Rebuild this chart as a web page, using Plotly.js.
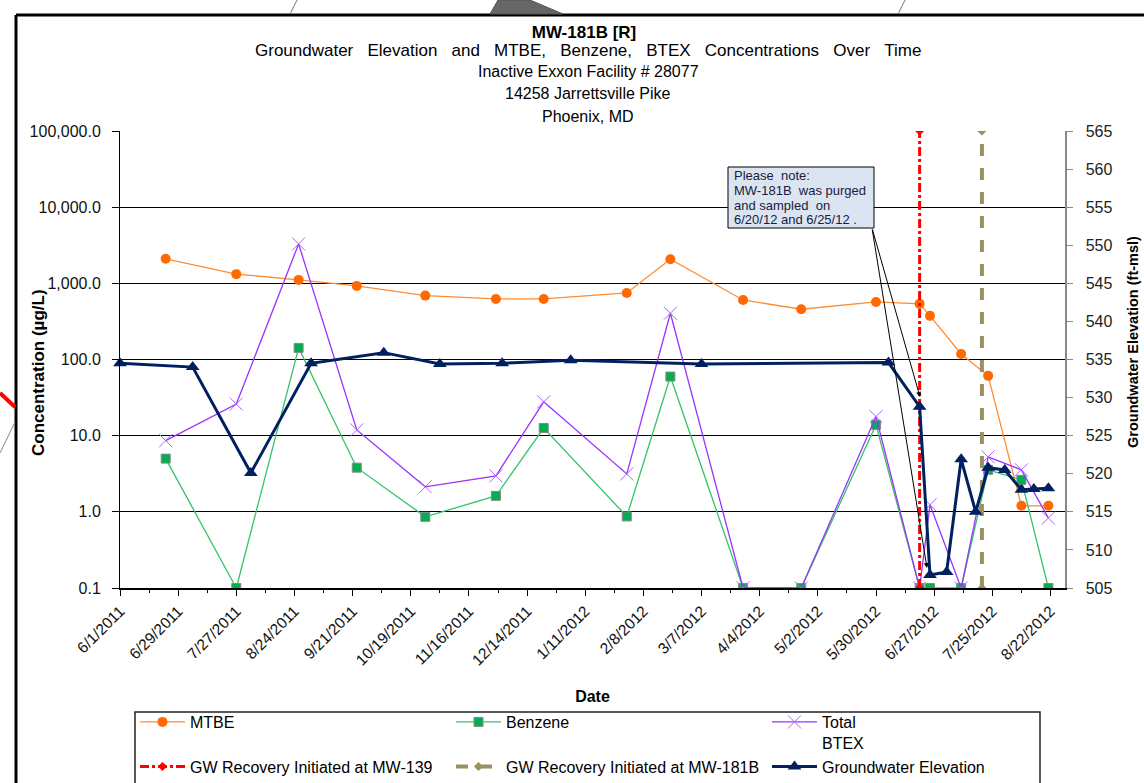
<!DOCTYPE html>
<html><head><meta charset="utf-8">
<script src="https://cdn.plot.ly/plotly-3.0.1.min.js"></script>
<style>html,body{margin:0;padding:0;background:#fff}#chart{width:1144px;height:783px}</style>
</head><body><div id="chart"></div>
<script>
// ---- data ----
const sampleDates = ['2011-06-23','2011-07-27','2011-08-26','2011-09-23','2011-10-26','2011-11-29','2011-12-22',
  '2012-01-31','2012-02-21','2012-03-27','2012-04-24','2012-05-30','2012-06-20','2012-06-25','2012-07-10',
  '2012-07-23','2012-08-08','2012-08-21'];
const mtbe    = [2100, 1320, 1110, 925, 690, 624, 624, 748, 2070, 605, 457, 570, 537, 374, 118, 61, 1.2, 1.2];
const benzene = [5.0, 0.1, 142, 3.8, 0.86, 1.62, 12.6, 0.87, 59.7, 0.1, 0.1, 13.9, 0.1, 0.1, 0.1, 3.56, 2.63, 0.1];
const btex    = [8.6, 26, 3290, 11.9, 2.13, 2.97, 27.8, 3.15, 405, 0.1, 0.1, 17.8, 0.1, 1.24, 0.1, 5.27, 3.56, 0.83];

const gwDates = ['2011-06-01','2011-07-06','2011-08-03','2011-09-01','2011-10-06','2011-11-02','2011-12-02',
  '2012-01-04','2012-03-07','2012-06-05','2012-06-20','2012-06-25','2012-07-03','2012-07-10','2012-07-17',
  '2012-07-23','2012-07-31','2012-08-08','2012-08-14','2012-08-21'];
const gwElevation = [534.5, 534.0, 520.1, 534.5, 535.9, 534.4, 534.5, 534.9, 534.4, 534.6, 528.8, 506.7,
  507.1, 521.9, 515.0, 520.8, 520.5, 517.9, 518.0, 518.1];

const recoveryMW139 = ['2012-06-20','2012-06-20'];
const recoveryMW181B = ['2012-07-20','2012-07-20'];
const recoverySpan = [0.1, 100000];

const concTickVals = [0.1, 1, 10, 100, 1000, 10000, 100000];
const concTickText = ['0.1','1.0','10.0','100.0','1,000.0','10,000.0','100,000.0'];

const S = '\u00a0';
const titleLines = [
  ['Groundwater', 'Elevation', 'and', 'MTBE,', 'Benzene,', 'BTEX', 'Concentrations', 'Over', 'Time'].join(S + S + S),
  'Inactive Exxon Facility # 28077', '14258 Jarrettsville Pike', 'Phoenix, MD'];
const noteLines = ['Please' + S + S + 'note:', 'MW-181B' + S + S + 'was purged', 'and sampled' + S + S + 'on', '6/20/12 and 6/25/12 .'];

// ---- layout helpers (pixel -> paper) ----
const L = 120, R = 1065, T = 131, B = 588;
const px = x => (x - L) / (R - L);
const py = y => (B - y) / (B - T);
const FONT = 'Liberation Sans, Arial, sans-serif';

const traces = [
  {x: sampleDates, y: mtbe, name: 'MTBE', type: 'scatter', mode: 'lines+markers',
   line: {color: '#ff8c33', width: 1.3}, marker: {color: '#ff6a00', size: 10, symbol: 'circle'}},
  {x: sampleDates, y: benzene, name: 'Benzene', type: 'scatter', mode: 'lines+markers',
   line: {color: '#33c466', width: 1.3}, marker: {color: '#00b050', size: 9, symbol: 'square', line: {color: '#888', width: 1}}},
  {x: sampleDates, y: btex, name: 'Total<br>BTEX', type: 'scatter', mode: 'lines+markers',
   line: {color: '#9933ff', width: 1.3}, marker: {color: '#b060ff', size: 13, symbol: 'x-thin-open', line: {color: '#b060ff', width: 1}}},
  {x: recoveryMW139, y: recoverySpan, name: 'GW Recovery Initiated at MW-139', type: 'scatter', mode: 'lines+markers',
   line: {color: '#ff0000', width: 3, dash: 'dashdot'}, marker: {color: '#ff0000', size: 7, symbol: 'diamond'}},
  {x: recoveryMW181B, y: recoverySpan, name: 'GW Recovery Initiated at MW-181B', type: 'scatter', mode: 'lines+markers',
   line: {color: '#9a9060', width: 4, dash: 'dash'}, marker: {color: '#9a9060', size: 7, symbol: 'diamond'}},
  {x: gwDates, y: gwElevation, name: 'Groundwater Elevation', type: 'scatter', mode: 'lines+markers', yaxis: 'y2',
   line: {color: '#002060', width: 3}, marker: {color: '#002060', size: 12, symbol: 'triangle-up'}, cliponaxis: false}
];

const annotations = titleLines.map((t, i) => ({
  text: t, xref: 'paper', yref: 'paper', x: px(588), y: py(50 + 22 * i), xanchor: 'center', yanchor: 'middle',
  showarrow: false, font: {family: FONT, size: i === 0 ? 17 : 16, color: '#000'}
}));
// axis titles for the two value axes, placed as in the reference
annotations.push({text: '<b>Concentration (µg/L)</b>', xref: 'paper', yref: 'paper', x: px(38), y: py(373),
  textangle: -90, xanchor: 'center', yanchor: 'middle', showarrow: false, font: {family: FONT, size: 17, color: '#000'}});
annotations.push({text: '<b>Groundwater Elevation (ft-msl)</b>', xref: 'paper', yref: 'paper', x: px(1133), y: py(342),
  textangle: -90, xanchor: 'center', yanchor: 'middle', showarrow: false, font: {family: FONT, size: 14.5, color: '#000'}});
// note box text
noteLines.forEach((t, i) => annotations.push({
  text: t, xref: 'paper', yref: 'paper', x: px(732), y: py(175 + 15 * i), xanchor: 'left', yanchor: 'middle',
  align: 'left', showarrow: false, font: {family: FONT, size: 13, color: '#1a1a40'}
}));
annotations.push({text: '', xref: 'paper', yref: 'paper', x: px(920), y: py(397), ax: 872 - 920, ay: 228 - 397,
  showarrow: true, arrowhead: 2, arrowsize: 1, arrowwidth: 1, arrowcolor: '#000'});
annotations.push({text: '', xref: 'paper', yref: 'paper', x: px(927), y: py(568), ax: 872 - 927, ay: 228 - 568,
  showarrow: true, arrowhead: 2, arrowsize: 1, arrowwidth: 1, arrowcolor: '#000'});

const shapes = [
  // note box
  {type: 'rect', xref: 'paper', yref: 'paper', x0: px(728), x1: px(874), y0: py(167), y1: py(228), layer: 'above',
   fillcolor: '#dbe5f1', line: {color: '#000', width: 1}},
  // legend frame
  {type: 'rect', xref: 'paper', yref: 'paper', x0: px(135), x1: px(1040), y0: py(712), y1: py(800),
   fillcolor: 'rgba(0,0,0,0)', line: {color: '#222', width: 1.5}},
  // slide decorations around the chart
  {type: 'line', xref: 'paper', yref: 'paper', x0: px(16), x1: px(1150), y0: py(15), y1: py(15), line: {color: '#000', width: 3}},
  {type: 'line', xref: 'paper', yref: 'paper', x0: px(16), x1: px(16), y0: py(15), y1: py(790), line: {color: '#000', width: 3}},
  {type: 'path', xref: 'paper', yref: 'paper',
   path: `M ${px(498)},${py(0)} L ${px(530)},${py(0)} L ${px(563)},${py(14)} L ${px(490)},${py(14)} Z`,
   fillcolor: '#666', line: {color: '#555', width: 1}},
  {type: 'line', xref: 'paper', yref: 'paper', x0: px(297), x1: px(290), y0: py(0), y1: py(14), line: {color: '#777', width: 1}},
  {type: 'line', xref: 'paper', yref: 'paper', x0: px(905), x1: px(898), y0: py(0), y1: py(14), line: {color: '#777', width: 1}},
  {type: 'line', xref: 'paper', yref: 'paper', x0: px(0), x1: px(15), y0: py(393), y1: py(407), line: {color: '#ff0000', width: 4}},
  {type: 'line', xref: 'paper', yref: 'paper', x0: px(15), x1: px(0), y0: py(422), y1: py(453), line: {color: '#888', width: 1}}
];

const layout = {
  width: 1144, height: 783,
  margin: {l: L, r: 1144 - R, t: T, b: 783 - B, pad: 0, autoexpand: false},
  paper_bgcolor: '#fff', plot_bgcolor: '#fff',
  font: {family: FONT, size: 13, color: '#000'},
  title: {text: '<b>MW-181B [R]</b>', x: 584 / 1144, xanchor: 'center', xref: 'container',
          y: 1 - 32 / 783, yanchor: 'middle', yref: 'container', font: {family: FONT, size: 17, color: '#000'}},
  xaxis: {type: 'date', range: ['2011-06-01', '2012-08-29'], tick0: '2011-06-01', dtick: 28 * 86400000,
          tickformat: '%-m/%-d/%Y', tickangle: -45, ticks: 'outside', ticklen: 6, tickcolor: '#000',
          showline: true, linecolor: '#000', linewidth: 2, showgrid: false, zeroline: false, automargin: false,
          tickfont: {family: FONT, size: 15.5, color: '#111'},
          minor: {dtick: 14 * 86400000, tick0: '2011-06-01', ticks: 'outside', ticklen: 3, tickcolor: '#000'},
          title: {text: '<b>Date</b>', font: {family: FONT, size: 16, color: '#000'}, standoff: 26}},
  yaxis: {type: 'log', range: [-1, 5], tickvals: concTickVals, ticktext: concTickText, automargin: false,
          showgrid: true, gridcolor: '#000', gridwidth: 1, showline: true, linecolor: '#000', linewidth: 1,
          ticks: 'outside', ticklen: 7, tickcolor: '#000', zeroline: false, ticklabelstandoff: 8,
          tickfont: {family: FONT, size: 16, color: '#111'}},
  yaxis2: {overlaying: 'y', side: 'right', range: [505, 565], tick0: 505, dtick: 5, showgrid: false, automargin: false,
           showline: true, linecolor: '#888', linewidth: 1.5, ticks: 'outside', ticklen: 6, tickcolor: '#888',
           zeroline: false, ticklabelstandoff: 10, tickfont: {family: FONT, size: 16, color: '#222'}},
  showlegend: true,
  legend: {orientation: 'h', xref: 'container', yref: 'container', x: 135 / 1144, y: 1 - 705 / 783,
           xanchor: 'left', yanchor: 'top', borderwidth: 0, bgcolor: 'rgba(0,0,0,0)',
           font: {family: FONT, size: 16, color: '#000'},
           entrywidth: 256, entrywidthmode: 'pixels', itemwidth: 45, traceorder: 'normal', valign: 'top'},
  annotations: annotations,
  shapes: shapes
};

Plotly.newPlot('chart', traces, layout, {displayModeBar: false, staticPlot: true});
</script>
</body></html>
